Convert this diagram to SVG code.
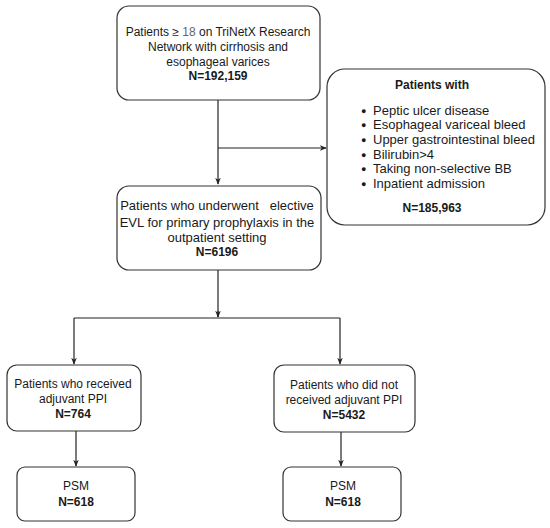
<svg xmlns="http://www.w3.org/2000/svg" width="550" height="528" viewBox="0 0 550 528">
<defs>
<style>
.box{fill:#fff;stroke:#333;stroke-width:1.2}
text{font-family:"Liberation Sans",Arial,sans-serif;font-size:12px;fill:#1a1a1a}
.c{text-anchor:middle}
.b{font-weight:bold}
.m{font-size:13px}
.bul{font-size:9px}
.ln{fill:none;stroke:#222;stroke-width:1.2}
</style>
<marker id="ah" viewBox="0 0 10 10" refX="9" refY="5" markerWidth="7" markerHeight="7" orient="auto" markerUnits="userSpaceOnUse">
<path d="M0,1 L10,5 L0,9 L3,5 Z" fill="#222"/>
</marker>
</defs>
<rect width="550" height="528" fill="#fff"/>
<g id="connectors">
<path class="ln" d="M218,100 V184" marker-end="url(#ah)"/>
<path class="ln" d="M218,148 H326" marker-end="url(#ah)"/>
<path class="ln" d="M218,270 V317"/>
<path class="ln" d="M218,311 V317" marker-end="url(#ah)"/>
<path class="ln" d="M74,318 H340"/>
<path class="ln" d="M74,318 V364" marker-end="url(#ah)"/>
<path class="ln" d="M340,318 V364" marker-end="url(#ah)"/>
<path class="ln" d="M76,431 V466" marker-end="url(#ah)"/>
<path class="ln" d="M341,432 V466" marker-end="url(#ah)"/>
</g>
<g id="n1">
<rect class="box" x="117" y="6" width="203" height="94" rx="12"/>
<text class="c" x="218" y="36">Patients ≥ <tspan fill="#666">18</tspan> on TriNetX Research</text>
<text class="c" x="218" y="51">Network with cirrhosis and</text>
<text class="c" x="218" y="66">esophageal varices</text>
<text class="c b" x="218" y="80">N=192,159</text>
</g>
<g id="n2">
<rect class="box" x="327" y="69" width="218" height="156" rx="18"/>
<text class="c b" x="432" y="89">Patients with</text>
<g>
<text class="bul" x="361" y="114">●</text><text class="m" x="373" y="115">Peptic ulcer disease</text>
<text class="bul" x="361" y="128">●</text><text class="m" x="373" y="129">Esophageal variceal bleed</text>
<text class="bul" x="361" y="143">●</text><text class="m" x="373" y="144">Upper gastrointestinal bleed</text>
<text class="bul" x="361" y="158">●</text><text class="m" x="373" y="159">Bilirubin&gt;4</text>
<text class="bul" x="361" y="172">●</text><text class="m" x="373" y="173">Taking non-selective BB</text>
<text class="bul" x="361" y="187">●</text><text class="m" x="373" y="188">Inpatient admission</text>
</g>
<text class="c b" x="432" y="212">N=185,963</text>
</g>
<g id="n3">
<rect class="box" x="117" y="186" width="204" height="84" rx="12"/>
<text class="c m" x="217" y="210" xml:space="preserve">Patients who underwent   elective</text>
<text class="c m" x="217" y="227">EVL for primary prophylaxis in the</text>
<text class="c m" x="217" y="242">outpatient setting</text>
<text class="c b" x="217" y="256">N=6196</text>
</g>
<g id="n4">
<rect class="box" x="7" y="365" width="134" height="66" rx="10"/>
<text class="c" x="73" y="388">Patients who received</text>
<text class="c" x="73" y="403">adjuvant PPI</text>
<text class="c b" x="73" y="418">N=764</text>
</g>
<g id="n5">
<rect class="box" x="274" y="365" width="141" height="67" rx="10"/>
<text class="c" x="344" y="389">Patients who did not</text>
<text class="c" x="344" y="404">received adjuvant PPI</text>
<text class="c b" x="344" y="419">N=5432</text>
</g>
<g id="n6">
<rect class="box" x="17" y="467" width="118" height="54" rx="8"/>
<text class="c" x="76" y="490">PSM</text>
<text class="c b" x="76" y="506">N=618</text>
</g>
<g id="n7">
<rect class="box" x="283" y="467" width="118" height="54" rx="8"/>
<text class="c" x="343" y="490">PSM</text>
<text class="c b" x="343" y="506">N=618</text>
</g>
</svg>
